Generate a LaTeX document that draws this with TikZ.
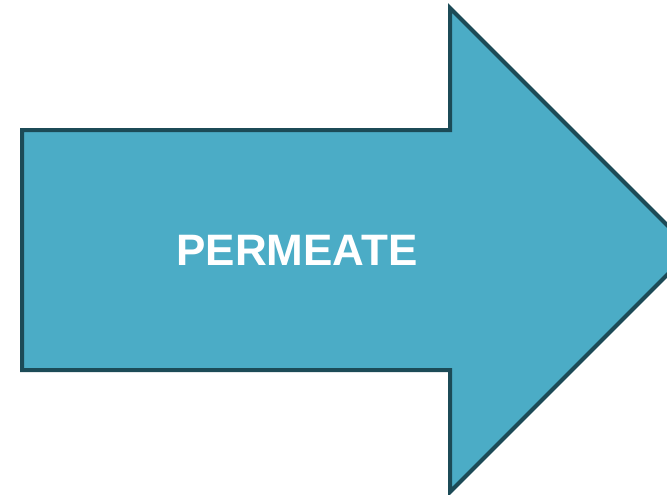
\documentclass[tikz,border=0pt]{standalone}
\usepackage{fontspec}
\setmainfont{Liberation Sans}
\definecolor{cteal}{HTML}{4BACC6}
\definecolor{cdteal}{HTML}{1C4B57}

\begin{document}
\begin{tikzpicture}[
    x=1pt, y=-1pt,
    arrowshape/.style={fill=cteal, draw=cdteal, line width=4pt, line join=miter},
    label/.style={font=\fontsize{44}{44}\selectfont\bfseries, text=white}
]
\useasboundingbox (0,0) rectangle (667,495);

%% Arrow
\draw[arrowshape] (22,130) -- (450,130) -- (450,8) -- (692,250)
    -- (450,492) -- (450,370) -- (22,370) -- cycle;

%% Label
\node[label] (permeate) at (297,250) {PERMEATE};

\end{tikzpicture}
\end{document}
